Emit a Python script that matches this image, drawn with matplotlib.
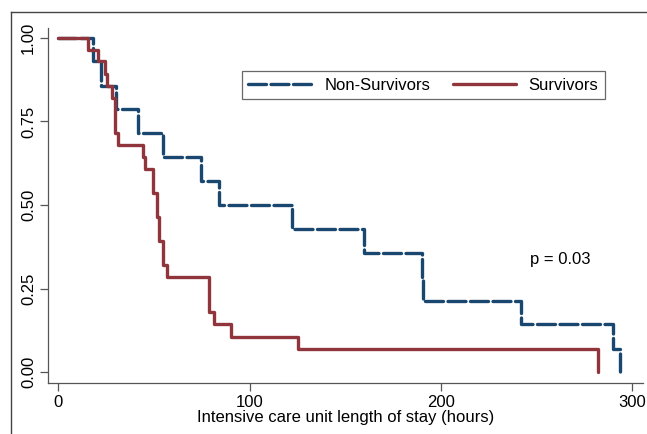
import matplotlib
matplotlib.use("Agg")
import matplotlib.pyplot as plt
from matplotlib.lines import Line2D

plt.rcParams['font.family'] = ['Liberation Sans', 'DejaVu Sans']

# Kaplan-Meier step data (time in hours, survival probability)
nonsurv_time = [0, 18.4, 22.5, 30.1, 41.9, 55.0, 74.7, 84.1, 122.3, 160.0, 189.9, 190.8, 241.8, 290.0, 293.5]
nonsurv_surv = [1.0, 0.929, 0.857, 0.786, 0.714, 0.643, 0.571, 0.5, 0.429, 0.357, 0.286, 0.214, 0.143, 0.071, 0.0]

surv_time = [0, 15.8, 21.0, 24.5, 25.4, 28.1, 29.8, 31.5, 44.5, 45.4, 49.8, 51.9, 52.9, 54.7, 56.8, 79.0, 81.6, 90.2, 125.2, 282.2]
surv_surv = [1.0, 0.964, 0.929, 0.893, 0.857, 0.821, 0.714, 0.679, 0.643, 0.607, 0.536, 0.464, 0.393, 0.321, 0.286, 0.179, 0.143, 0.107, 0.071, 0.0]

x_ticks = [0, 100, 200, 300]
y_ticks = [0.0, 0.25, 0.5, 0.75, 1.0]
y_ticklabels = ['0.00', '0.25', '0.50', '0.75', '1.00']
labels = ['Non-Survivors', 'Survivors']
p_text = 'p = 0.03'
xlabel = 'Intensive care unit length of stay (hours)'

blue = '#1a476f'
red = '#90353b'
fs = 12

fig = plt.figure(figsize=(6.47, 4.34), dpi=100)
ax = fig.add_axes([0.0737, 0.1182, 0.9201, 0.818])

ax.step(nonsurv_time, nonsurv_surv, where='post', color=blue, lw=2.4,
        dashes=(5.4, 1.35), dash_capstyle='round', solid_capstyle='round', label=labels[0])
ax.step(surv_time, surv_surv, where='post', color=red, lw=2.4,
        solid_capstyle='round', label=labels[1])

ax.set_xlim(-5.4, 305.5)
ax.set_ylim(-0.031, 1.03)
ax.set_xticks(x_ticks)
ax.set_yticks(y_ticks)
ax.set_yticklabels(y_ticklabels, rotation=90, va='center')
ax.tick_params(axis='both', direction='out', length=5.5, width=0.9, color='#555555',
               labelsize=fs, pad=3)
for s in ['top', 'right']:
    ax.spines[s].set_visible(False)
for s in ['left', 'bottom']:
    ax.spines[s].set_color('#555555')
    ax.spines[s].set_linewidth(0.9)

ax.set_xlabel(xlabel, fontsize=fs, labelpad=0)
ax.text(246.5, 0.336, p_text, fontsize=fs, va='center', ha='left')

leg = ax.legend(ncol=2, loc='upper left', bbox_to_anchor=(0.326, 0.878),
                borderaxespad=0, fontsize=fs, handlelength=3.8, columnspacing=1.35,
                frameon=True, fancybox=False, borderpad=0.4, handletextpad=0.75)
leg.get_frame().set_edgecolor('#444444')
leg.get_frame().set_linewidth(0.9)

# outer frame lines
fig.add_artist(Line2D([11/647, 11/647], [0, 1 - 11.5/434], transform=fig.transFigure,
                      color='#444444', lw=1.0))
fig.add_artist(Line2D([11/647, 1], [1 - 11.5/434, 1 - 11.5/434], transform=fig.transFigure,
                      color='#444444', lw=1.0))

fig.savefig('out.png', dpi=100, facecolor='white')
